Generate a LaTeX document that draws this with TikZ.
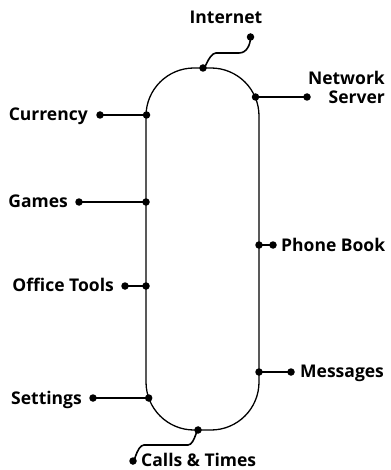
\documentclass[tikz,border=0pt]{standalone}
\usepackage{fontspec}
\setmainfont{Open Sans}
\begin{document}
\begin{tikzpicture}[x=1pt,y=-1pt,
  dot/.style={circle,fill=black,inner sep=0pt,minimum size=7.5pt},
  lbl/.style={font=\bfseries\fontsize{17.5}{19}\selectfont,inner sep=0pt,text=black},
  conn/.style={line width=1.6pt},
  pill/.style={line width=1.3pt}]
\useasboundingbox (0,0) rectangle (390,470);
% pill outline
\draw[pill,rounded corners=48pt] (146,68) rectangle (259,430);
% dots on the pill
\node[dot] (pInt) at (203,68) {};
\node[dot] (pNet) at (255.5,97) {};
\node[dot] (pCur) at (146.5,115) {};
\node[dot] (pGam) at (146,202) {};
\node[dot] (pOff) at (146,286) {};
\node[dot] (pSet) at (148.7,398) {};
\node[dot] (pCal) at (198,430) {};
\node[dot] (pPho) at (259,245) {};
\node[dot] (pMes) at (259,372) {};
% outer dots
\node[dot] (oInt) at (250.5,37) {};
\node[dot] (oNet) at (307,97) {};
\node[dot] (oCur) at (100,115) {};
\node[dot] (oGam) at (79,202) {};
\node[dot] (oOff) at (125,286) {};
\node[dot] (oSet) at (93,398) {};
\node[dot] (oCal) at (133,461) {};
\node[dot] (oPho) at (273,245) {};
\node[dot] (oMes) at (291,372) {};
% connectors
\coordinate (i1) at (216,53);
\coordinate (i2) at (239,53);
\draw[conn] (pInt.center) to[out=-90,in=180] (i1) -- (i2) to[out=0,in=-90] (oInt.center);
\draw[conn] (pNet.center) -- (oNet.center);
\draw[conn] (pCur.center) -- (oCur.center);
\draw[conn] (pGam.center) -- (oGam.center);
\draw[conn] (pOff.center) -- (oOff.center);
\draw[conn] (pSet.center) -- (oSet.center);
\draw[conn] (pPho.center) -- (oPho.center);
\draw[conn] (pMes.center) -- (oMes.center);
\coordinate (c1) at (188,445);
\coordinate (c2) at (144,445);
\draw[conn] (pCal.center) to[out=90,in=0] (c1) -- (c2) to[out=180,in=-90] (oCal.center);
% labels
\node[lbl,anchor=base] (tInt) at (226,24) {Internet};
\node[lbl,anchor=base east] (tNet) at (385,84.3) {Network};
\node[lbl,anchor=base east] (tSrv) at (385,103.3) {Server};
\node[lbl,anchor=base east] (tCur) at (88,120.7) {Currency};
\node[lbl,anchor=base east] (tGam) at (68,207.3) {Games};
\node[lbl,anchor=base east] (tOff) at (114,291.7) {Office Tools};
\node[lbl,anchor=base east] (tSet) at (82,404) {Settings};
\node[lbl,anchor=base west] (tPho) at (281,251) {Phone Book};
\node[lbl,anchor=base west] (tMes) at (300,377.3) {Messages};
\node[lbl,anchor=base west] (tCal) at (141,466.5) {Calls \& Times};
\end{tikzpicture}
\end{document}
